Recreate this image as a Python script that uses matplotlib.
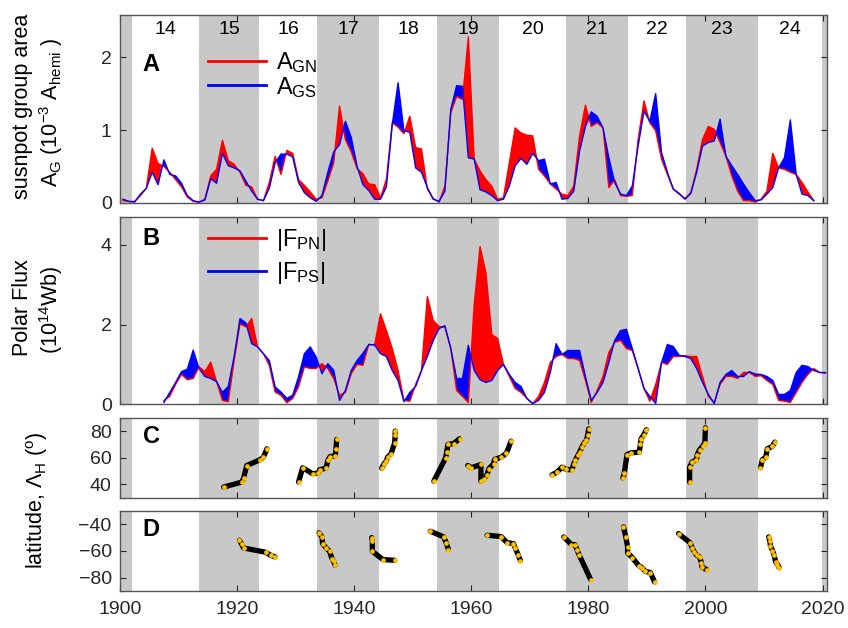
import numpy as np
import matplotlib
matplotlib.use('Agg')
import matplotlib.pyplot as plt
from matplotlib.lines import Line2D

plt.rcParams['font.family'] = ['Liberation Sans', 'DejaVu Sans']
plt.rcParams['mathtext.fontset'] = 'custom'
plt.rcParams['mathtext.rm'] = 'Liberation Sans'
plt.rcParams['mathtext.it'] = 'Liberation Sans'
plt.rcParams['mathtext.default'] = 'regular'

# solar cycle minima (cycle n runs from cycle_min[i] to cycle_min[i+1])
cycle_min = [1902.0, 1913.5, 1923.7, 1933.7, 1944.2, 1954.2, 1964.8,
             1976.2, 1986.7, 1996.6, 2009.0, 2019.95]
cycle_num = [14, 15, 16, 17, 18, 19, 20, 21, 22, 23, 24]

# yearly sunspot group area, north / south (1e-3 hemisphere)
years_A = np.arange(1900.5, 2019.0, 1.0)
area_N = [0.03, 0.02, 0.02, 0.10, 0.20, 0.75, 0.54, 0.50, 0.42, 0.32,
          0.22, 0.08, 0.02, 0.01, 0.05, 0.37, 0.46, 0.86, 0.58, 0.53,
          0.42, 0.24, 0.22, 0.05, 0.03, 0.28, 0.64, 0.39, 0.72, 0.68,
          0.32, 0.24, 0.15, 0.05, 0.07, 0.30, 0.55, 1.33, 0.87, 0.70,
          0.47, 0.40, 0.26, 0.25, 0.07, 0.32, 1.10, 1.04, 0.95, 1.19,
          0.76, 0.74, 0.19, 0.06, 0.01, 0.23, 1.24, 1.46, 1.42, 2.28,
          0.60, 0.44, 0.32, 0.23, 0.05, 0.07, 0.55, 1.03, 0.96, 0.93,
          0.92, 0.46, 0.37, 0.26, 0.19, 0.12, 0.10, 0.23, 0.92, 1.34,
          1.05, 1.10, 1.03, 0.21, 0.32, 0.10, 0.09, 0.10, 0.87, 1.40,
          1.10, 0.99, 0.60, 0.39, 0.19, 0.12, 0.06, 0.14, 0.46, 0.87,
          1.05, 1.01, 0.83, 0.64, 0.37, 0.16, 0.03, 0.03, 0.01, 0.05,
          0.16, 0.68, 0.48, 0.46, 0.42, 0.39, 0.28, 0.15, 0.03]
area_S = [0.05, 0.02, 0.01, 0.12, 0.20, 0.42, 0.25, 0.59, 0.39, 0.37,
          0.27, 0.10, 0.03, 0.01, 0.04, 0.33, 0.27, 0.68, 0.51, 0.48,
          0.44, 0.30, 0.16, 0.05, 0.03, 0.20, 0.55, 0.67, 0.67, 0.63,
          0.28, 0.14, 0.07, 0.02, 0.10, 0.42, 0.70, 0.80, 1.12, 0.90,
          0.50, 0.25, 0.17, 0.05, 0.05, 0.22, 1.07, 1.65, 0.99, 0.97,
          0.48, 0.42, 0.21, 0.05, 0.02, 0.16, 1.28, 1.61, 1.60, 0.62,
          0.60, 0.18, 0.15, 0.10, 0.03, 0.05, 0.23, 0.51, 0.61, 0.53,
          0.68, 0.58, 0.60, 0.26, 0.28, 0.05, 0.06, 0.16, 0.71, 1.05,
          1.25, 1.19, 1.03, 0.62, 0.28, 0.12, 0.10, 0.23, 0.78, 1.26,
          1.12, 1.50, 0.69, 0.42, 0.19, 0.13, 0.05, 0.13, 0.42, 0.78,
          0.83, 0.85, 1.15, 0.64, 0.51, 0.39, 0.26, 0.14, 0.03, 0.04,
          0.12, 0.21, 0.48, 0.62, 1.14, 0.39, 0.12, 0.10, 0.03]

# yearly polar flux magnitude, north / south (1e14 Wb)
years_B = np.arange(1907.5, 2021.0, 1.0)
flux_N = [0.10, 0.20, 0.50, 0.75, 0.62, 0.65, 0.94, 0.82, 1.06, 0.57,
          0.10, 0.07, 1.10, 2.02, 1.94, 2.15, 1.44, 1.27, 0.98, 0.31,
          0.23, 0.04, 0.15, 0.44, 0.94, 0.90, 0.90, 1.02, 0.90, 0.65,
          0.23, 0.30, 0.77, 1.00, 0.98, 1.50, 1.49, 2.27, 1.85, 1.40,
          0.85, 0.10, 0.08, 0.50, 0.85, 2.70, 2.10, 1.95, 1.93, 1.40,
          0.35, 0.20, 0.05, 2.50, 3.95, 3.30, 1.75, 1.65, 1.00, 0.70,
          0.40, 0.30, 0.15, 0.02, 0.20, 0.55, 1.05, 1.20, 1.25, 1.15,
          1.15, 1.10, 0.60, 0.05, 0.35, 0.70, 1.30, 1.55, 1.60, 1.40,
          1.35, 0.90, 0.40, 0.08, 0.50, 1.05, 1.00, 1.20, 1.20, 1.22,
          1.20, 1.20, 0.70, 0.20, 0.05, 0.50, 0.70, 0.70, 0.65, 0.80,
          0.80, 0.70, 0.72, 0.60, 0.50, 0.10, 0.08, 0.05, 0.30, 0.55,
          0.75, 0.90, 0.80, 0.78]
flux_S = [0.05, 0.30, 0.55, 0.82, 0.88, 1.36, 0.90, 0.70, 0.65, 0.57,
          0.30, 0.45, 1.20, 2.15, 2.04, 1.52, 1.44, 1.27, 1.10, 0.44,
          0.31, 0.15, 0.23, 0.69, 1.27, 1.44, 1.19, 0.77, 1.02, 0.86,
          0.10, 0.35, 0.85, 1.10, 1.28, 1.50, 1.49, 1.27, 1.20, 0.85,
          0.60, 0.07, 0.30, 0.45, 0.85, 1.20, 1.60, 1.90, 1.97, 1.40,
          0.65, 0.65, 1.48, 0.85, 0.62, 0.55, 0.60, 0.85, 1.00, 0.75,
          0.55, 0.45, 0.15, 0.02, 0.10, 0.30, 0.80, 1.52, 1.25, 1.35,
          1.35, 1.35, 0.70, 0.10, 0.30, 0.55, 1.05, 1.60, 1.85, 1.88,
          1.40, 0.90, 0.40, 0.20, 0.02, 1.05, 1.50, 1.45, 1.23, 1.20,
          1.15, 0.90, 0.55, 0.25, 0.02, 0.55, 0.75, 0.85, 0.70, 0.70,
          0.82, 0.76, 0.75, 0.70, 0.60, 0.25, 0.25, 0.35, 0.80, 0.98,
          0.95, 0.85, 0.80, 0.80]

# high-latitude tracks, northern hemisphere (year, latitude)
tracks_N = [
    ([1917.7, 1920.8, 1921.1, 1921.65, 1923.9, 1924.5, 1925.1],
     [38.0, 41.8, 44.5, 54.3, 58.6, 60.6, 66.9]),
    ([1930.5, 1931.2, 1932.9, 1933.9, 1934.1, 1935.2, 1935.5, 1935.9, 1936.75, 1936.9, 1937.0],
     [41.8, 52.6, 48.1, 48.6, 51.1, 52.3, 58.1, 61.1, 61.4, 66.9, 74.0]),
    ([1944.7, 1945.1, 1945.5, 1945.7, 1946.3, 1946.9, 1947.0, 1947.0],
     [52.3, 55.6, 57.6, 60.6, 63.1, 71.2, 77.0, 80.3]),
    ([1953.6, 1955.6, 1955.8, 1956.0, 1957.0, 1958.0],
     [42.5, 59.9, 64.4, 70.2, 70.9, 74.5]),
    ([1959.4, 1960.0, 1961.65, 1961.65, 1962.2, 1962.7, 1963.0, 1963.8, 1964.0, 1965.1, 1966.0, 1966.8],
     [54.3, 52.6, 55.1, 42.5, 44.3, 47.5, 51.8, 55.6, 58.9, 60.6, 63.6, 72.7]),
    ([1973.8, 1974.65, 1975.5, 1976.25, 1977.2, 1977.5, 1977.8, 1978.2, 1978.5, 1978.9, 1979.3, 1979.66, 1979.9, 1980.05],
     [47.3, 49.3, 53.1, 51.3, 51.1, 55.6, 58.6, 61.9, 64.4, 68.2, 71.4, 73.2, 77.7, 82.0]),
    ([1985.9, 1986.15, 1986.6, 1987.3, 1988.7, 1988.9, 1989.0, 1989.5, 1989.9],
     [44.8, 48.8, 62.6, 63.9, 64.4, 70.7, 74.5, 77.7, 81.3]),
    ([1997.3, 1997.3, 1997.7, 1998.46, 1998.6, 1999.0, 1999.5, 1999.9, 2000.0],
     [41.8, 53.1, 56.9, 58.6, 62.6, 66.2, 68.9, 71.4, 82.8]),
    ([2009.4, 2009.7, 2010.3, 2010.55, 2011.4, 2011.86],
     [52.6, 58.6, 60.6, 66.9, 68.7, 72.0]),
]

# high-latitude tracks, southern hemisphere (year, latitude)
tracks_S = [
    ([1920.4, 1920.8, 1921.1, 1924.9, 1925.75, 1926.5],
     [-52.0, -55.0, -57.8, -61.0, -63.3, -64.5]),
    ([1934.0, 1934.5, 1934.6, 1935.2, 1935.8, 1936.2, 1936.5, 1936.75],
     [-46.5, -49.5, -54.5, -57.75, -60.25, -65.75, -67.75, -70.75]),
    ([1943.0, 1943.1, 1943.1, 1944.9, 1946.9],
     [-50.0, -52.5, -60.25, -66.5, -67.0]),
    ([1953.0, 1955.3, 1955.7, 1956.1],
     [-45.25, -49.5, -53.75, -59.0]),
    ([1962.7, 1965.1, 1966.1, 1967.2, 1967.5, 1968.0, 1968.4],
     [-48.25, -49.25, -53.75, -54.5, -57.75, -62.75, -67.25]),
    ([1975.8, 1977.1, 1977.7, 1978.1, 1978.4, 1980.4],
     [-49.5, -55.25, -55.25, -59.5, -62.75, -81.5]),
    ([1986.0, 1986.4, 1986.7, 1986.7, 1987.5, 1988.6, 1989.2, 1989.7, 1990.6, 1991.3],
     [-42.0, -49.5, -57.0, -61.5, -65.0, -71.0, -72.75, -75.25, -76.25, -83.25]),
    ([1995.4, 1997.4, 1997.7, 1998.1, 1998.5, 1999.0, 1999.3, 1999.4, 2000.2],
     [-47.0, -54.0, -57.5, -60.75, -63.25, -64.5, -68.75, -72.0, -74.0]),
    ([2010.8, 2011.0, 2011.1, 2011.45, 2011.7, 2012.0, 2012.3, 2012.6],
     [-49.5, -52.75, -56.25, -59.75, -62.75, -68.25, -70.25, -72.5]),
]

XLIM = (1900, 2020.8)
GREY = '#c8c8c8'
INK = '#262626'
GOLD = '#ffc000'
TICK_FS = 14
LABEL_FS = 15.5

fig = plt.figure(figsize=(8.48, 6.28), dpi=100)
axA = fig.add_axes([0.1415, 0.677, 0.834, 0.299])
axB = fig.add_axes([0.1415, 0.356, 0.834, 0.299])
axC = fig.add_axes([0.1415, 0.2075, 0.834, 0.1265])
axD = fig.add_axes([0.1415, 0.059, 0.834, 0.1275])


def shade_cycles(ax):
    # odd cycles get a grey band
    ax.axvspan(XLIM[0], cycle_min[0], color=GREY, lw=0, zorder=0)
    for i, n in enumerate(cycle_num):
        if n % 2 == 1:
            ax.axvspan(cycle_min[i], cycle_min[i + 1], color=GREY, lw=0, zorder=0)
    ax.axvspan(cycle_min[-1], XLIM[1], color=GREY, lw=0, zorder=0)


def style(ax, yticks, ylim):
    ax.set_xlim(*XLIM)
    ax.set_ylim(*ylim)
    ax.set_yticks(yticks)
    ax.set_xticks(np.arange(1900, 2021, 20))
    ax.tick_params(direction='in', top=True, right=True, length=4,
                   labelsize=TICK_FS, colors=INK, width=0.8)
    ax.tick_params(axis='y', pad=6)
    ax.tick_params(axis='x', pad=7)
    for s in ax.spines.values():
        s.set_color('#555555')
        s.set_linewidth(1.0)


def north_south(ax, x, n, s):
    n = np.asarray(n)
    s = np.asarray(s)
    ax.fill_between(x, n, s, where=n >= s, interpolate=True, color='#ff0000', lw=0, zorder=2)
    ax.fill_between(x, n, s, where=s > n, interpolate=True, color='#0000ff', lw=0, zorder=2)
    ax.plot(x, n, color='#ff0000', lw=1.0, zorder=3)
    ax.plot(x, s, color='#0000ff', lw=1.0, zorder=3)


for ax in (axA, axB, axC, axD):
    shade_cycles(ax)

# panel A
style(axA, [0, 1, 2], (0, 2.58))
north_south(axA, years_A, area_N, area_S)
for i, n in enumerate(cycle_num):
    axA.text(0.5 * (cycle_min[i] + cycle_min[i + 1]), 2.38, str(n),
             ha='center', va='center', fontsize=14)
legA = [Line2D([], [], color='#ff0000', lw=2), Line2D([], [], color='#0000ff', lw=2)]
axA.legend(legA, [r'A$_{GN}$', r'A$_{GS}$'], loc='upper left',
           bbox_to_anchor=(0.124, 0.815), frameon=False, fontsize=17,
           handlelength=2.45, handletextpad=0.45, labelspacing=0.0,
           borderpad=0, borderaxespad=0)

# panel B
style(axB, [0, 2, 4], (0, 4.7))
north_south(axB, years_B, flux_N, flux_S)
legB = [Line2D([], [], color='#ff0000', lw=2), Line2D([], [], color='#0000ff', lw=2)]
axB.legend(legB, [r'|F$_{PN}$|', r'|F$_{PS}$|'], loc='upper left',
           bbox_to_anchor=(0.124, 0.945), frameon=False, fontsize=17,
           handlelength=2.45, handletextpad=0.45, labelspacing=0.3,
           borderpad=0, borderaxespad=0)

# panels C and D
style(axC, [40, 60, 80], (30, 90))
style(axD, [-80, -60, -40], (-90, -30))
for ax, tracks in ((axC, tracks_N), (axD, tracks_S)):
    for yr, lat in tracks:
        ax.plot(yr, lat, color='k', lw=3.8, solid_capstyle='round',
                solid_joinstyle='round', zorder=2)
        ax.plot(yr, lat, 'o', color=GOLD, ms=3.4, mec='none', zorder=3)

for ax in (axA, axB, axC):
    ax.set_xticklabels([])

for ax, letter, y in ((axA, 'A', 0.735), (axB, 'B', 0.886),
                      (axC, 'C', 0.764), (axD, 'D', 0.762)):
    ax.text(0.044, y, letter, transform=ax.transAxes, ha='center',
            va='center', fontsize=17, fontweight='bold')

# y-axis labels
H = 628.0
fig.text(23 / 848, 1 - 106 / H, 'susnpot group area', rotation=90,
         ha='center', va='center', fontsize=LABEL_FS)
fig.text(51 / 848, 1 - 112 / H, r'A$_G$ (10$^{-3}$ A$_{hemi}$ )', rotation=90,
         ha='center', va='center', fontsize=LABEL_FS)
fig.text(23 / 848, 1 - 308 / H, 'Polar Flux', rotation=90,
         ha='center', va='center', fontsize=LABEL_FS)
fig.text(51 / 848, 1 - 310 / H, r'(10$^{14}$Wb)', rotation=90,
         ha='center', va='center', fontsize=LABEL_FS)
fig.text(37 / 848, 1 - 500 / H, r'latitude, Λ$_H$ ($^o$)', rotation=90,
         ha='center', va='center', fontsize=LABEL_FS)

fig.savefig('out.png', dpi=100)
